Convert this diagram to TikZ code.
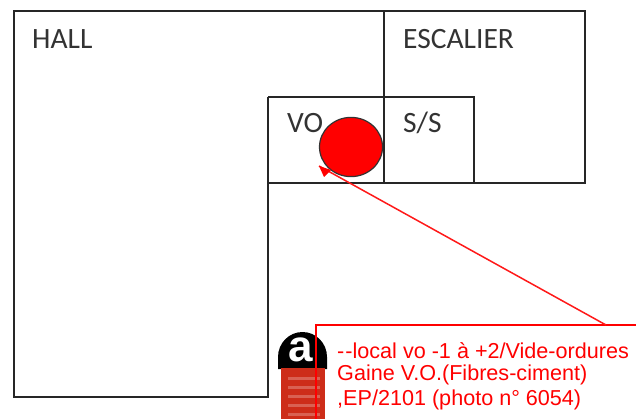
\documentclass[tikz,border=0pt]{standalone}
\usepackage{fontspec}
\setmainfont{Liberation Sans}
\newfontfamily\calib{Carlito}
\definecolor{logored}{RGB}{205,45,25}
\begin{document}
\begin{tikzpicture}[x=1pt,y=-1pt,
  wall/.style={draw=black!85,line width=1.5pt,line join=miter},
  roomlabel/.style={anchor=west,inner sep=0pt,font=\calib\fontsize{29.5}{32}\selectfont,text=black!80},
  redtext/.style={anchor=west,inner sep=0pt,text=red,font=\fontsize{21.6}{24}\selectfont},
  leader/.style={draw=red!90!white,line width=1.5pt}]
\useasboundingbox (0,0) rectangle (636,419);
\fill[white] (0,0) rectangle (636,419);
% walls
\draw[wall] (268,97) -- (268,397) -- (14,397) -- (14,11) -- (585,11) -- (585,183) -- (268,183);
\draw[wall] (268,97) -- (474,97) -- (474,183);
\draw[wall] (384,11) -- (384,183);
% labels
\node[roomlabel] (hall) at (32,39) {HALL};
\node[roomlabel] (esc) at (403,39) {ESCALIER};
\node[roomlabel] (vo) at (287,123) {VO};
\node[roomlabel] (ss) at (403,123) {S/S};
% marker
\node[circle,draw=black!80,fill=red,line width=1.2pt,minimum width=63pt,minimum height=63pt,inner sep=0pt,yscale=0.94] (dot) at (351,147) {};
% asbestos logo
\fill[black] (278,369) -- (278,357) arc[start angle=180,end angle=0,x radius=24.5,y radius=-25] -- (327,369) -- cycle;
\node[inner sep=0pt,text=white,font=\bfseries\fontsize{44}{44}\selectfont] (logoa) at (301,350) {a};
\fill[logored] (281,368) rectangle (325,419);
\foreach \yy in {377,386,395,404,413}{\fill[white,opacity=.25] (288,\yy) rectangle (320,\yy+2.5);}
% callout
\coordinate (boxtl) at (316,325);
\coordinate (boxtr) at (637,325);
\coordinate (boxbl) at (316,420);
\draw[red,line width=1.2pt] (boxbl) -- (boxtl) -- (boxtr);
\coordinate (tipstart) at (606,325);
\coordinate (tip) at (319,166);
\draw[leader] (tipstart) -- (tip);
\fill[red] (tip) -- (331,170) -- (324,177) -- cycle;
\node[redtext] (l1) at (337,351) {-\kern1pt-local vo -1 à +2/Vide-ordures};
\node[redtext] (l2) at (337,375) {Gaine V.O.(Fibres-ciment)};
\node[redtext] (l3) at (337,400) {,EP/2101 (photo n° 6054)};
\end{tikzpicture}
\end{document}
